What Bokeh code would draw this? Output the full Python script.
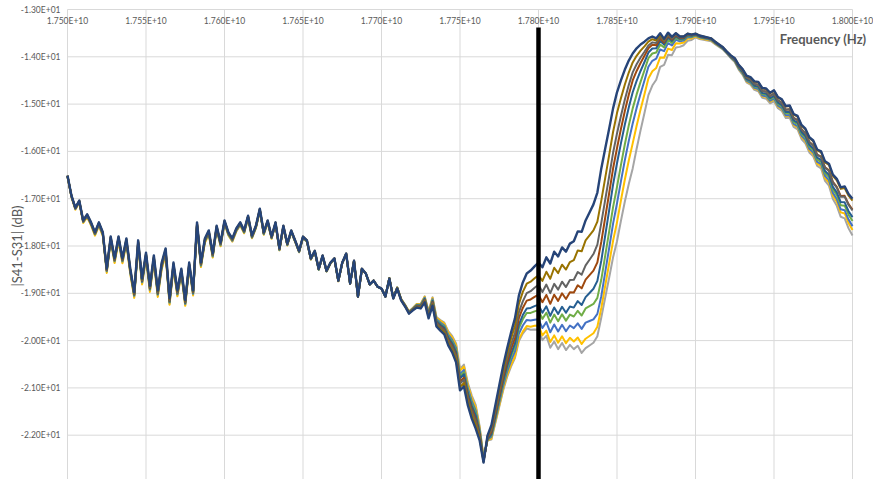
import numpy as np
from bokeh.plotting import figure
from bokeh.models import Range1d
from bokeh.core.properties import value
from bokeh.embed import file_html
from bokeh.resources import INLINE

# Frequency sweep (Hz), 201 points from 17.50 GHz to 18.00 GHz
FREQ = np.linspace(1.75e10, 1.80e10, 201)

# Reference trace (topmost, dark navy) in dB
BASE_DB = [
    -16.51, -16.93, -17.19, -17.04, -17.46, -17.33, -17.50, -17.71, -17.50, -17.71,
    -18.48, -17.80, -18.26, -17.80, -18.26, -17.84, -18.48, -18.98, -17.88, -18.69,
    -18.14, -18.84, -18.20, -18.94, -18.35, -18.05, -19.11, -18.35, -18.94, -18.48,
    -19.15, -18.35, -18.94, -17.50, -18.35, -17.84, -17.67, -18.16, -17.57, -17.93,
    -17.46, -17.71, -17.84, -17.63, -17.50, -17.67, -17.36, -17.78, -17.57, -17.21,
    -17.71, -17.46, -17.80, -17.50, -18.05, -17.57, -17.95, -17.67, -17.88, -18.10,
    -17.80, -17.88, -18.26, -18.10, -18.48, -18.20, -18.52, -18.35, -18.26, -18.73,
    -18.35, -18.16, -18.79, -18.31, -19.07, -18.48, -18.58, -18.81, -18.73, -18.86,
    -18.90, -19.07, -18.69, -19.11, -18.90, -19.15, -19.28, -19.43, -19.36, -19.30,
    -19.32, -19.19, -19.53, -19.26, -19.70, -19.79, -19.87, -20.10, -20.25, -20.46,
    -21.05, -20.97, -21.37, -21.65, -21.86, -22.11, -22.58, -22.01, -21.79, -21.37,
    -20.95, -20.53, -20.17, -19.83, -19.53, -19.05, -18.77, -18.58, -18.52, -18.43,
    -18.35, -18.45, -18.24, -18.37, -18.12, -18.22, -18.03, -18.12, -17.95, -17.90,
    -17.69, -17.70, -17.46, -17.29, -17.12, -16.87, -16.36, -15.94, -15.52, -15.09,
    -14.75, -14.50, -14.27, -14.08, -13.93, -13.82, -13.74, -13.68, -13.61, -13.57,
    -13.61, -13.50, -13.62, -13.49, -13.58, -13.50, -13.57, -13.57, -13.51, -13.53,
    -13.51, -13.55, -13.57, -13.59, -13.61, -13.68, -13.74, -13.80, -13.89, -13.97,
    -14.03, -14.17, -14.26, -14.40, -14.43, -14.52, -14.53, -14.66, -14.67, -14.76,
    -14.71, -14.85, -14.90, -15.04, -15.03, -15.21, -15.25, -15.44, -15.52, -15.70,
    -15.77, -15.96, -16.00, -16.21, -16.26, -16.49, -16.58, -16.76, -16.74, -16.90,
    -17.00,
]

# Frequencies (GHz) at which each trace's drop below the reference trace is given
GAP_GHZ = [17.50, 17.53, 17.56, 17.60, 17.65, 17.70, 17.72, 17.74, 17.75, 17.76,
           17.77, 17.78, 17.79, 17.80, 17.81, 17.82, 17.83, 17.84, 17.85, 17.86,
           17.87, 17.88, 17.89, 17.90, 17.92, 17.94, 17.96, 17.98, 18.00]

GAP_GOLD = [0.00, 0.01, 0.02, 0.01, 0.00, 0.00, -0.01, -0.04, -0.07, -0.08,
            0.05, 0.11, 0.20, 0.27, 0.34, 0.39, 0.42, 0.68, 0.44, 0.19,
            0.07, 0.02, 0.00, 0.00, 0.00, 0.01, 0.01, 0.02, 0.04]
GAP_DGRAY = [0.01, 0.02, 0.04, 0.02, 0.01, 0.00, -0.02, -0.08, -0.14, -0.15,
             0.10, 0.21, 0.40, 0.47, 0.68, 0.77, 0.95, 1.15, 0.87, 0.40,
             0.15, 0.05, 0.02, 0.01, 0.01, 0.06, 0.08, 0.12, 0.25]
GAP_BROWN = [0.01, 0.03, 0.05, 0.02, 0.01, 0.00, -0.02, -0.10, -0.18, -0.20,
             0.14, 0.29, 0.54, 0.68, 0.91, 1.03, 1.25, 1.55, 1.18, 0.57,
             0.21, 0.08, 0.03, 0.01, 0.01, 0.06, 0.08, 0.11, 0.23]
GAP_DBLUE = [0.01, 0.04, 0.07, 0.03, 0.02, 0.00, -0.03, -0.14, -0.25, -0.28,
             0.19, 0.37, 0.69, 0.89, 1.18, 1.33, 1.62, 1.95, 1.50, 0.82,
             0.30, 0.12, 0.05, 0.02, 0.02, 0.10, 0.13, 0.18, 0.39]
GAP_GREEN = [0.01, 0.05, 0.08, 0.04, 0.02, 0.00, -0.03, -0.16, -0.29, -0.33,
             0.21, 0.42, 0.78, 1.01, 1.33, 1.50, 1.86, 2.35, 2.00, 1.16,
             0.42, 0.18, 0.07, 0.03, 0.02, 0.12, 0.16, 0.22, 0.47]
GAP_BLUE = [0.02, 0.06, 0.09, 0.05, 0.02, 0.00, -0.04, -0.19, -0.34, -0.38,
            0.24, 0.49, 0.91, 1.20, 1.54, 1.73, 2.16, 2.70, 2.35, 1.48,
            0.60, 0.26, 0.10, 0.04, 0.03, 0.15, 0.20, 0.27, 0.58]
GAP_YELLOW = [0.03, 0.10, 0.14, 0.07, 0.03, 0.00, -0.05, -0.23, -0.41, -0.45,
              0.28, 0.56, 1.04, 1.33, 1.77, 1.99, 2.50, 2.95, 2.75, 1.90,
              0.85, 0.40, 0.15, 0.06, 0.03, 0.17, 0.22, 0.31, 0.66]
GAP_GRAY = [0.02, 0.08, 0.12, 0.06, 0.03, 0.00, -0.05, -0.25, -0.45, -0.50,
            0.30, 0.60, 1.08, 1.42, 1.90, 2.14, 2.70, 3.15, 3.15, 2.43,
            1.20, 0.55, 0.22, 0.08, 0.04, 0.20, 0.26, 0.36, 0.78]

MARKER_FREQ = 1.78e10
MARKER_DB = [-13.38, -23.0]

X_TICKS = [1.750e10, 1.755e10, 1.760e10, 1.765e10, 1.770e10, 1.775e10,
           1.780e10, 1.785e10, 1.790e10, 1.795e10, 1.800e10]
X_LABELS = ["1.750E+10", "1.755E+10", "1.760E+10", "1.765E+10", "1.770E+10",
            "1.775E+10", "1.780E+10", "1.785E+10", "1.790E+10", "1.795E+10",
            "1.800E+10"]
Y_TICKS = [-13, -14, -15, -16, -17, -18, -19, -20, -21, -22]
Y_LABELS = ["-1.30E+01", "-1.40E+01", "-1.50E+01", "-1.60E+01", "-1.70E+01",
            "-1.80E+01", "-1.90E+01", "-2.00E+01", "-2.10E+01", "-2.20E+01"]
Y_MIN = -23

FONT = value("Lato")
TEXT_COLOR = "#595959"
GRID_COLOR = "#d9d9d9"

# Canvas layout: plot area spans these pixels of the 873x479 page
W, H = 873, 479
PA_LEFT, PA_RIGHT, PA_TOP = 67, 852, 9
PX_PER_DB = 47.3

x0, x1 = X_TICKS[0], X_TICKS[-1]
hz_per_px = (x1 - x0) / (PA_RIGHT - PA_LEFT)
y_top, y_bot = Y_TICKS[0], Y_MIN
x_range = Range1d(x0 - PA_LEFT * hz_per_px, x1 + (W - PA_RIGHT) * hz_per_px)
y_range = Range1d(y_top - (H - PA_TOP) / PX_PER_DB, y_top + PA_TOP / PX_PER_DB)

p = figure(width=W, height=H, output_backend="svg", toolbar_location=None,
           x_range=x_range, y_range=y_range, min_border=0)
p.outline_line_color = None
p.axis.visible = False
p.grid.visible = False
p.background_fill_color = "white"
p.border_fill_color = "white"

# Gridlines (plot-area only)
p.segment(x0=X_TICKS, y0=[y_top] * len(X_TICKS), x1=X_TICKS, y1=[y_bot] * len(X_TICKS),
          line_color=GRID_COLOR, line_width=1)
p.segment(x0=[x0] * len(Y_TICKS), y0=Y_TICKS, x1=[x1] * len(Y_TICKS), y1=Y_TICKS,
          line_color=GRID_COLOR, line_width=1)

freq_ghz = FREQ / 1e9
base = np.array(BASE_DB)

series = [
    (GAP_GRAY, "#A5A5A5"),
    (GAP_YELLOW, "#FFC000"),
    (GAP_BLUE, "#4472C4"),
    (GAP_GREEN, "#70AD47"),
    (GAP_DBLUE, "#255E91"),
    (GAP_BROWN, "#9E480E"),
    (GAP_DGRAY, "#636363"),
    (GAP_GOLD, "#997300"),
]
for gaps, color in series:
    trace = base - np.interp(freq_ghz, GAP_GHZ, gaps)
    p.line(FREQ, trace, line_color=color, line_width=2, line_join="round")

p.line(FREQ, base, line_color="#264478", line_width=2.4, line_join="round")

# Marker line at 17.80 GHz
p.line([MARKER_FREQ, MARKER_FREQ], MARKER_DB, line_color="black", line_width=4.5)

# Frequency tick labels just under the top edge (axis crosses at -13 dB)
p.text(x=X_TICKS, y=[y_top] * len(X_TICKS), text=X_LABELS,
       text_align="center", text_baseline="middle", y_offset=11,
       text_font=FONT, text_font_size="8.5px", text_color=TEXT_COLOR)

# dB tick labels left of the plot area
p.text(x=[x0] * len(Y_TICKS), y=Y_TICKS, text=Y_LABELS,
       text_align="right", text_baseline="middle", x_offset=-7,
       text_font=FONT, text_font_size="8.5px", text_color=TEXT_COLOR)

# Axis titles
p.text(x=[x0], y=[(y_top + y_bot) / 2], text=["|S41-S31| (dB)"], angle=np.pi / 2,
       text_align="center", text_baseline="middle", x_offset=-51,
       text_font=FONT, text_font_size="13px", text_color=TEXT_COLOR)
p.text(x=[x1], y=[y_top], text=["Frequency (Hz)"], text_align="right",
       text_baseline="middle", x_offset=14, y_offset=29,
       text_font=FONT, text_font_size="13px", text_font_style="bold",
       text_color=TEXT_COLOR)

open("out.html", "w").write(file_html(p, INLINE))
